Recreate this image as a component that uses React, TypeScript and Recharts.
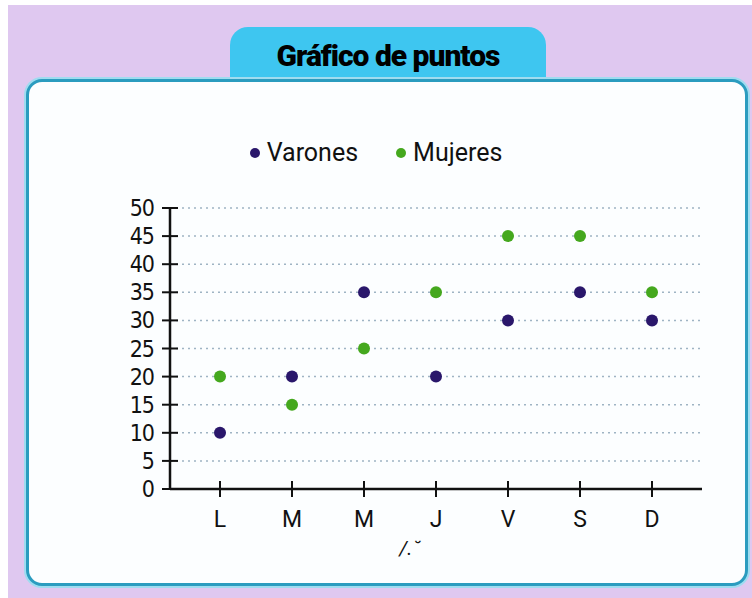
import React from "react";
import { ComposedChart, Line, XAxis, YAxis, CartesianGrid } from "recharts";

const DAYS = ["L", "M", "M", "J", "V", "S", "D"];
const VARONES = [10, 20, 35, 20, 30, 35, 30];
const MUJERES = [20, 15, 25, 35, 45, 45, 35];
const Y_TICKS = [0, 5, 10, 15, 20, 25, 30, 35, 40, 45, 50];

const SERIES = [
  { key: "varones", name: "Varones", color: "#2a176b" },
  { key: "mujeres", name: "Mujeres", color: "#45a81e" },
];

const data = DAYS.map((day, i) => ({
  idx: i,
  day,
  varones: VARONES[i],
  mujeres: MUJERES[i],
}));

const SANS = "Roboto, 'Noto Sans', sans-serif";

// y ticks cross the axis line (tickSize 8 + tickMargin 10 to the left of it)
const YTick = (props: any) => {
  const { x, y, payload } = props;
  return (
    <g>
      <line x1={x + 10} x2={x + 26} y1={y} y2={y} stroke="#111" strokeWidth={2} />
      <text
        x={x + 2}
        y={y}
        dy={8}
        textAnchor="end"
        fontFamily="'DejaVu Sans Condensed', 'DejaVu Sans', sans-serif"
        fontSize={23}
        letterSpacing={-1}
        fill="#111"
      >
        {payload.value}
      </text>
    </g>
  );
};

const XTick = (props: any) => {
  const { x, y, payload } = props;
  return (
    <g>
      <line x1={x} x2={x} y1={y - 26} y2={y - 10} stroke="#111" strokeWidth={2} />
      <text x={x} y={y} dy={20} textAnchor="middle" fontFamily={SANS} fontSize={23} fill="#111">
        {DAYS[payload.value]}
      </text>
    </g>
  );
};

const ChartLegend = () => (
  <div
    style={{
      position: "absolute",
      left: 0,
      top: 138,
      width: 752,
      display: "flex",
      justifyContent: "center",
      gap: 38,
      fontFamily: SANS,
      fontSize: 25,
      color: "#111",
    }}
  >
    {SERIES.map((s) => (
      <div key={s.key} style={{ display: "flex", alignItems: "center" }}>
        <span
          style={{
            display: "inline-block",
            width: 10,
            height: 10,
            borderRadius: 5,
            background: s.color,
            marginRight: 7,
          }}
        />
        {s.name}
      </div>
    ))}
  </div>
);

export default function App() {
  return (
    <div style={{ position: "absolute", left: 0, top: 0, width: 752, height: 598, background: "#fff" }}>
      <div style={{ position: "absolute", left: 8, top: 5, width: 744, height: 593, background: "#dfc8f0" }} />
      {/* title tab */}
      <div
        style={{
          position: "absolute",
          left: 230,
          top: 27,
          width: 316,
          height: 62,
          background: "#3ec6f0",
          borderRadius: "18px 18px 0 0",
          textAlign: "center",
          fontFamily: SANS,
          fontWeight: 900,
          fontSize: 30,
          letterSpacing: -1,
          lineHeight: "58px",
          color: "#000",
        }}
      >
        Gráfico de puntos
      </div>
      {/* card */}
      <div
        style={{
          position: "absolute",
          left: 26,
          top: 79,
          width: 716,
          height: 501,
          background: "#fcfeff",
          border: "3px solid #2b9cbf",
          borderRadius: 16,
          boxShadow: "0 0 0 2px #9fdcf0",
        }}
      />
      <ChartLegend />
      <div style={{ position: "absolute", left: 0, top: 0 }}>
        <ComposedChart
          width={752}
          height={598}
          data={data}
          margin={{ top: 208, right: 50, bottom: 59, left: 110 }}
        >
          <CartesianGrid vertical={false} stroke="#9fb4c4" strokeDasharray="2 4" strokeWidth={1.5} />
          <XAxis
            dataKey="idx"
            type="category"
            padding={{ left: 50, right: 50 }}
            axisLine={{ stroke: "#111", strokeWidth: 2.5 }}
            tickLine={false}
            tickSize={8}
            tickMargin={10}
            tick={<XTick />}
            height={50}
            interval={0}
            label={{
              value: "/.˘",
              position: "bottom",
              offset: 2,
              dx: -26,
              fontFamily: SANS,
              fontStyle: "italic",
              fontSize: 20,
              fill: "#111",
            }}
          />
          <YAxis
            type="number"
            domain={[0, 50]}
            ticks={Y_TICKS}
            interval={0}
            width={60}
            axisLine={{ stroke: "#111", strokeWidth: 2.5 }}
            tickLine={false}
            tickSize={8}
            tickMargin={10}
            tick={<YTick />}
          />
          {SERIES.map((s) => (
            <Line
              key={s.key}
              dataKey={s.key}
              name={s.name}
              stroke="none"
              dot={{ r: 6, fill: s.color, stroke: "none" }}
              activeDot={false}
              isAnimationActive={false}
            />
          ))}
        </ComposedChart>
      </div>
    </div>
  );
}
